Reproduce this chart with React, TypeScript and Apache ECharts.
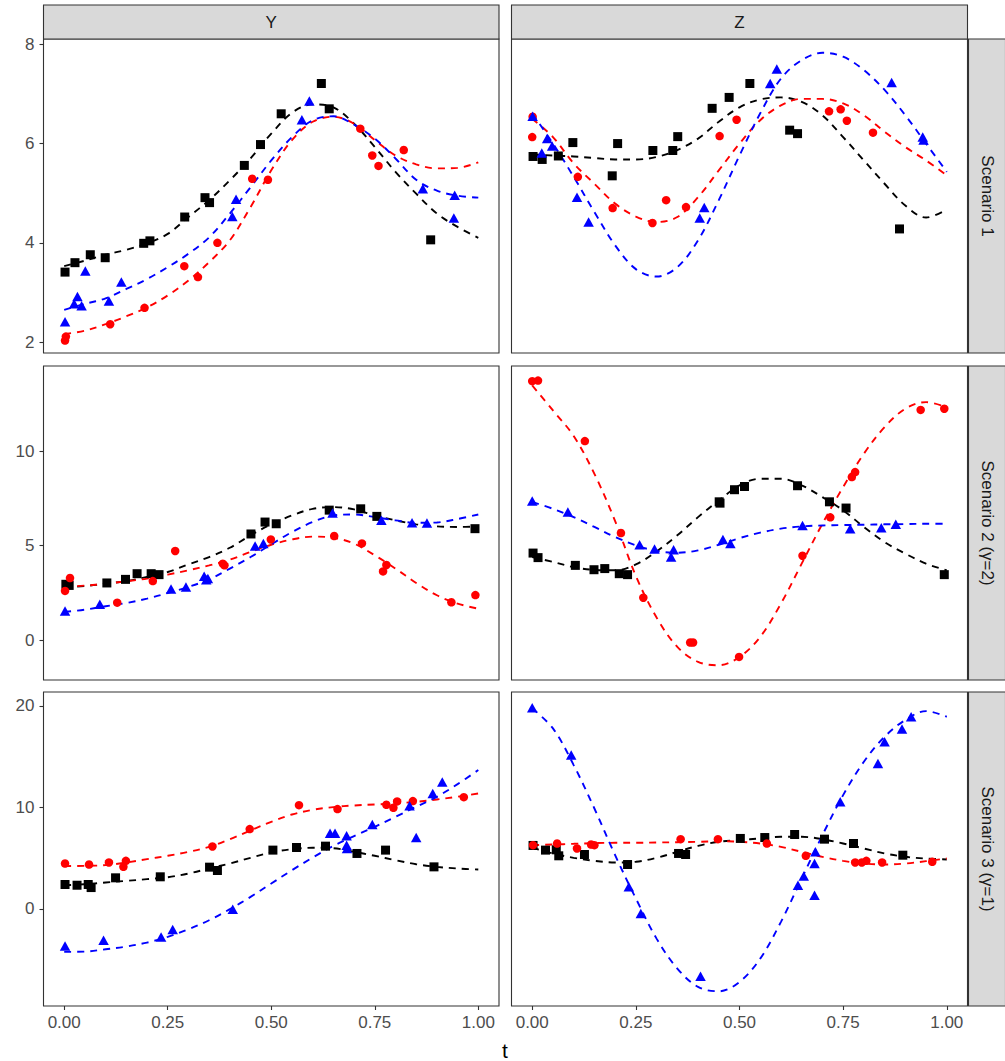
import React, { useEffect, useRef } from "react";
import * as echarts from "echarts";

// ---------- data ----------
const FIT_T = [0, 0.05, 0.1, 0.15, 0.2, 0.25, 0.3, 0.35, 0.4, 0.45, 0.5, 0.55, 0.6, 0.65, 0.7, 0.75, 0.8, 0.85, 0.9, 0.95, 1];
const X_TICKS = [0, 0.25, 0.5, 0.75, 1];
const COL_LABELS = ["Y", "Z"];
const ROW_LABELS = ["Scenario 1", "Scenario 2 (\u03b3=2)", "Scenario 3 (\u03b3=1)"];
const ROW_TICKS = [[2, 4, 6, 8], [0, 5, 10], [0, 10, 20]];
const ROW_RANGE = [[1.78, 8.107], [-2.1, 14.5], [-9.57, 21.37]];

// Scenario 1, Y
const s1Y_black = [[0.002, 3.41], [0.026, 3.6], [0.063, 3.76], [0.099, 3.7], [0.192, 3.99], [0.207, 4.04], [0.291, 4.52], [0.34, 4.91], [0.351, 4.81], [0.435, 5.56], [0.474, 5.98], [0.524, 6.6], [0.621, 7.21], [0.64, 6.7], [0.885, 4.06]];
const s1Y_red = [[0.002, 2.03], [0.004, 2.11], [0.111, 2.36], [0.194, 2.69], [0.29, 3.53], [0.323, 3.31], [0.37, 4.0], [0.454, 5.29], [0.492, 5.27], [0.715, 6.3], [0.744, 5.76], [0.759, 5.55], [0.82, 5.87]];
const s1Y_blue = [[0.002, 2.41], [0.024, 2.77], [0.032, 2.92], [0.042, 2.73], [0.051, 3.43], [0.108, 2.83], [0.138, 3.21], [0.406, 4.53], [0.415, 4.88], [0.574, 6.48], [0.592, 6.86], [0.866, 5.09], [0.943, 4.96], [0.941, 4.5]];
const s1Y_blackFit = [3.53, 3.64, 3.76, 3.86, 3.99, 4.18, 4.52, 4.86, 5.26, 5.7, 6.2, 6.62, 6.79, 6.73, 6.4, 5.93, 5.43, 4.99, 4.59, 4.32, 4.1];
const s1Y_redFit = [2.16, 2.23, 2.36, 2.52, 2.7, 2.94, 3.24, 3.61, 4.05, 4.72, 5.46, 6.07, 6.44, 6.54, 6.4, 6.07, 5.76, 5.58, 5.5, 5.51, 5.62];
const s1Y_blueFit = [2.65, 2.77, 2.88, 3.07, 3.27, 3.51, 3.78, 4.11, 4.59, 5.12, 5.66, 6.13, 6.47, 6.55, 6.38, 6.1, 5.7, 5.27, 5.05, 4.95, 4.91];

// Scenario 1, Z
const s1Z_black = [[0.002, 5.74], [0.024, 5.68], [0.063, 5.75], [0.098, 6.02], [0.193, 5.35], [0.206, 6.0], [0.291, 5.86], [0.339, 5.86], [0.351, 6.14], [0.434, 6.71], [0.475, 6.93], [0.525, 7.21], [0.621, 6.27], [0.64, 6.2], [0.886, 4.28]];
const s1Z_red = [[0.001, 6.54], [0.0, 6.13], [0.11, 5.33], [0.194, 4.7], [0.29, 4.4], [0.323, 4.86], [0.371, 4.72], [0.452, 6.15], [0.493, 6.48], [0.716, 6.65], [0.744, 6.69], [0.759, 6.46], [0.822, 6.22]];
const s1Z_blue = [[0.001, 6.55], [0.023, 5.81], [0.036, 6.1], [0.048, 5.95], [0.108, 4.92], [0.136, 4.42], [0.404, 4.5], [0.415, 4.71], [0.574, 7.21], [0.59, 7.5], [0.867, 7.23], [0.942, 6.13], [0.944, 6.07]];
const s1Z_blackFit = [5.78, 5.76, 5.74, 5.71, 5.68, 5.68, 5.73, 5.87, 6.1, 6.44, 6.73, 6.89, 6.93, 6.84, 6.57, 6.13, 5.66, 5.19, 4.75, 4.51, 4.67];
const s1Z_redFit = [6.5, 6.13, 5.6, 5.19, 4.79, 4.53, 4.42, 4.52, 4.92, 5.46, 6.0, 6.47, 6.77, 6.9, 6.9, 6.81, 6.57, 6.24, 5.93, 5.66, 5.36];
const s1Z_blueFit = [6.61, 6.0, 5.33, 4.62, 3.95, 3.47, 3.32, 3.51, 4.05, 4.86, 5.76, 6.61, 7.31, 7.68, 7.83, 7.75, 7.48, 7.08, 6.57, 6.0, 5.43];

// Scenario 2, Y
const s2Y_black = [[0.004, 2.96], [0.012, 2.9], [0.103, 3.03], [0.148, 3.22], [0.176, 3.52], [0.21, 3.52], [0.229, 3.47], [0.451, 5.62], [0.485, 6.25], [0.512, 6.16], [0.64, 6.88], [0.716, 6.95], [0.755, 6.55], [0.992, 5.9]];
const s2Y_red = [[0.002, 2.61], [0.014, 3.29], [0.128, 1.99], [0.214, 3.13], [0.268, 4.72], [0.383, 4.05], [0.387, 3.96], [0.499, 5.33], [0.652, 5.51], [0.719, 5.12], [0.77, 3.64], [0.778, 3.98], [0.935, 2.01], [0.993, 2.39]];
const s2Y_blue = [[0.002, 1.55], [0.086, 1.9], [0.258, 2.71], [0.294, 2.82], [0.338, 3.38], [0.343, 3.2], [0.347, 3.26], [0.461, 4.98], [0.481, 5.11], [0.648, 6.73], [0.766, 6.34], [0.84, 6.21], [0.876, 6.2]];
const s2Y_blackFit = [2.78, 2.87, 2.99, 3.13, 3.35, 3.61, 4.01, 4.4, 4.89, 5.55, 6.13, 6.6, 6.95, 7.04, 6.92, 6.6, 6.34, 6.13, 6.02, 5.99, 6.02];
const s2Y_redFit = [2.82, 2.89, 2.99, 3.12, 3.26, 3.47, 3.7, 3.96, 4.26, 4.67, 5.05, 5.33, 5.48, 5.42, 5.11, 4.49, 3.79, 3.03, 2.38, 1.94, 1.67];
const s2Y_blueFit = [1.5, 1.62, 1.8, 1.97, 2.2, 2.5, 2.82, 3.22, 3.79, 4.4, 5.07, 5.72, 6.25, 6.6, 6.65, 6.51, 6.34, 6.21, 6.23, 6.41, 6.65];

// Scenario 2, Z
const s2Z_black = [[0.002, 4.61], [0.014, 4.37], [0.104, 3.96], [0.149, 3.73], [0.175, 3.79], [0.21, 3.52], [0.23, 3.47], [0.451, 7.32], [0.453, 7.25], [0.488, 7.96], [0.512, 8.13], [0.64, 8.17], [0.717, 7.32], [0.757, 6.99], [0.994, 3.47]];
const s2Z_red = [[0.0, 13.7], [0.014, 13.73], [0.127, 10.53], [0.214, 5.67], [0.268, 2.25], [0.381, -0.12], [0.388, -0.12], [0.499, -0.88], [0.652, 4.47], [0.719, 6.5], [0.771, 8.63], [0.779, 8.89], [0.937, 12.18], [0.994, 12.24]];
const s2Z_blue = [[0.0, 7.36], [0.086, 6.78], [0.259, 5.05], [0.295, 4.82], [0.335, 4.4], [0.341, 4.79], [0.46, 5.33], [0.478, 5.11], [0.652, 6.07], [0.767, 5.9], [0.842, 5.95], [0.877, 6.13]];
const s2Z_blackFit = [4.4, 4.14, 3.87, 3.72, 3.7, 4.01, 4.7, 5.55, 6.51, 7.39, 8.19, 8.54, 8.54, 8.19, 7.57, 6.87, 5.99, 5.19, 4.58, 4.05, 3.7];
const s2Z_redFit = [13.47, 12.15, 10.8, 8.8, 6.3, 3.4, 1.2, -0.35, -1.14, -1.32, -0.88, 0.18, 1.94, 4.05, 6.16, 8.1, 9.86, 11.27, 12.24, 12.59, 12.32];
const s2Z_blueFit = [7.31, 6.95, 6.51, 5.99, 5.46, 5.02, 4.72, 4.63, 4.75, 5.05, 5.4, 5.69, 5.9, 6.02, 6.07, 6.09, 6.11, 6.13, 6.14, 6.16, 6.16];

// Scenario 3, Y
const s3Y_black = [[0.002, 2.4], [0.031, 2.33], [0.058, 2.4], [0.065, 2.1], [0.124, 3.06], [0.232, 3.16], [0.351, 4.11], [0.37, 3.78], [0.504, 5.79], [0.561, 6.05], [0.631, 6.18], [0.707, 5.46], [0.776, 5.79], [0.893, 4.14]];
const s3Y_red = [[0.002, 4.47], [0.06, 4.37], [0.108, 4.57], [0.143, 4.14], [0.149, 4.73], [0.358, 6.15], [0.448, 7.86], [0.567, 10.22], [0.66, 9.83], [0.778, 10.26], [0.795, 9.96], [0.804, 10.59], [0.842, 10.62], [0.965, 11.01]];
const s3Y_blue = [[0.002, -3.65], [0.095, -3.09], [0.234, -2.76], [0.262, -2.04], [0.407, -0.03], [0.642, 7.46], [0.654, 7.46], [0.682, 7.2], [0.682, 6.28], [0.683, 5.95], [0.744, 8.32], [0.834, 10.16], [0.85, 7.03], [0.89, 11.37], [0.913, 12.49]];
const s3Y_blackFit = [2.33, 2.43, 2.6, 2.76, 2.93, 3.12, 3.48, 3.98, 4.47, 5.03, 5.56, 5.88, 6.02, 5.98, 5.62, 5.23, 4.8, 4.4, 4.14, 3.98, 3.88];
const s3Y_redFit = [4.21, 4.24, 4.31, 4.57, 4.9, 5.23, 5.62, 6.11, 6.87, 7.73, 8.58, 9.3, 9.76, 10.03, 10.19, 10.29, 10.39, 10.55, 10.78, 11.05, 11.37];
const s3Y_blueFit = [-4.24, -4.21, -3.98, -3.71, -3.32, -2.76, -2.01, -1.12, -0.03, 1.18, 2.5, 3.81, 5.06, 6.21, 7.17, 8.09, 9.07, 10.06, 11.05, 12.29, 13.68];

// Scenario 3, Z
const s3Z_black = [[0.002, 6.25], [0.032, 5.79], [0.058, 5.82], [0.064, 5.23], [0.126, 5.36], [0.23, 4.37], [0.353, 5.46], [0.37, 5.36], [0.502, 6.94], [0.561, 7.03], [0.633, 7.33], [0.705, 6.87], [0.775, 6.44], [0.894, 5.29]];
const s3Z_red = [[0.002, 6.28], [0.06, 6.44], [0.108, 5.95], [0.142, 6.34], [0.15, 6.28], [0.358, 6.87], [0.448, 6.87], [0.566, 6.44], [0.66, 5.23], [0.779, 4.57], [0.795, 4.57], [0.806, 4.73], [0.844, 4.57], [0.965, 4.64]];
const s3Z_blue = [[0.0, 19.82], [0.094, 15.16], [0.233, 2.17], [0.262, -0.46], [0.406, -6.64], [0.641, 2.33], [0.655, 3.25], [0.681, 1.35], [0.681, 4.47], [0.683, 5.62], [0.743, 10.55], [0.834, 14.33], [0.85, 16.47], [0.892, 17.72], [0.914, 18.94]];
const s3Z_blackFit = [6.02, 5.46, 5.03, 4.73, 4.57, 4.64, 5.03, 5.62, 6.21, 6.61, 6.77, 6.94, 7.1, 7.1, 6.87, 6.44, 5.95, 5.46, 5.13, 4.96, 4.87];
const s3Z_redFit = [6.28, 6.34, 6.41, 6.48, 6.51, 6.51, 6.54, 6.57, 6.61, 6.67, 6.61, 6.44, 6.11, 5.62, 5.13, 4.73, 4.47, 4.37, 4.47, 4.7, 4.96];
const s3Z_blueFit = [19.76, 17.78, 14.17, 9.89, 5.29, 1.02, -2.93, -5.88, -7.69, -8.12, -7.2, -4.9, -1.28, 2.99, 7.26, 11.21, 14.5, 16.96, 18.61, 19.49, 18.93];

const PANELS = [
  { row: 0, col: 0, pts: [s1Y_black, s1Y_red, s1Y_blue], fits: [s1Y_blackFit, s1Y_redFit, s1Y_blueFit] },
  { row: 0, col: 1, pts: [s1Z_black, s1Z_red, s1Z_blue], fits: [s1Z_blackFit, s1Z_redFit, s1Z_blueFit] },
  { row: 1, col: 0, pts: [s2Y_black, s2Y_red, s2Y_blue], fits: [s2Y_blackFit, s2Y_redFit, s2Y_blueFit] },
  { row: 1, col: 1, pts: [s2Z_black, s2Z_red, s2Z_blue], fits: [s2Z_blackFit, s2Z_redFit, s2Z_blueFit] },
  { row: 2, col: 0, pts: [s3Y_black, s3Y_red, s3Y_blue], fits: [s3Y_blackFit, s3Y_redFit, s3Y_blueFit] },
  { row: 2, col: 1, pts: [s3Z_black, s3Z_red, s3Z_blue], fits: [s3Z_blackFit, s3Z_redFit, s3Z_blueFit] },
];

// ---------- layout & style ----------
const FONT = "'Liberation Sans', Arial, Helvetica, sans-serif";
const COLS = [{ left: 43.5, width: 455.5 }, { left: 511.5, width: 456 }];
const ROWS = [{ top: 39, height: 314 }, { top: 366, height: 314 }, { top: 692, height: 314 }];
const STRIP_TOP = 5;
const STRIP_H = 34;
const STRIP_RIGHT_X = 968.5;
const STRIP_RIGHT_W = 37;
const COLORS = ["#000000", "#FF0000", "#0000FF"];
const SYMBOLS = ["rect", "circle", "triangle"];
const SYMBOL_SIZES: any[] = [9, 8.5, [10.5, 9.5]];

export default function App() {
  const ref = useRef<HTMLDivElement>(null);
  useEffect(() => {
    if (!ref.current) return;
    const chart = echarts.init(ref.current, undefined, { renderer: "svg" });
    const grids: any[] = [];
    const xAxes: any[] = [];
    const yAxes: any[] = [];
    const series: any[] = [];
    PANELS.forEach((p, i) => {
      const c = COLS[p.col];
      const r = ROWS[p.row];
      grids.push({
        left: c.left, top: r.top, width: c.width, height: r.height,
        show: true, borderColor: "#333333", borderWidth: 1.1, backgroundColor: "#FFFFFF",
      });
      const bottom = p.row === 2;
      xAxes.push({
        type: "value", gridIndex: i, min: -0.05, max: 1.05, position: "bottom",
        axisLine: { show: false, onZero: false }, splitLine: { show: false },
        axisTick: { show: bottom, inside: false, length: 4, lineStyle: { color: "#333333", width: 1.1 }, customValues: X_TICKS },
        axisLabel: {
          show: bottom, customValues: X_TICKS, formatter: (v: number) => v.toFixed(2),
          color: "#4D4D4D", fontSize: 17, fontFamily: FONT, margin: 8,
        },
      });
      const left = p.col === 0;
      yAxes.push({
        type: "value", gridIndex: i, min: ROW_RANGE[p.row][0], max: ROW_RANGE[p.row][1], position: "left",
        axisLine: { show: false, onZero: false }, splitLine: { show: false },
        axisTick: { show: left, inside: false, length: 4, lineStyle: { color: "#333333", width: 1.1 }, customValues: ROW_TICKS[p.row] },
        axisLabel: {
          show: left, customValues: ROW_TICKS[p.row],
          color: "#4D4D4D", fontSize: 17, fontFamily: FONT, margin: 9,
        },
      });
      p.fits.forEach((f, k) => {
        series.push({
          type: "line", xAxisIndex: i, yAxisIndex: i,
          data: FIT_T.map((t, j) => [t, f[j]]),
          smooth: 0.35, showSymbol: false, symbol: "none", z: 2,
          lineStyle: { color: COLORS[k], width: 1.9, type: [7, 6] },
          silent: true,
        });
      });
      p.pts.forEach((pts, k) => {
        series.push({
          type: "scatter", xAxisIndex: i, yAxisIndex: i,
          data: pts, symbol: SYMBOLS[k], symbolSize: SYMBOL_SIZES[k], z: 3,
          itemStyle: { color: COLORS[k], opacity: 1 },
          silent: true,
        });
      });
    });

    const graphic: any[] = [];
    COLS.forEach((c, ci) => {
      graphic.push({
        type: "rect", shape: { x: c.left, y: STRIP_TOP, width: c.width, height: STRIP_H },
        style: { fill: "#D9D9D9", stroke: "#333333", lineWidth: 1.1 }, z: 10,
      });
      graphic.push({
        type: "text", x: c.left + c.width / 2, y: STRIP_TOP + STRIP_H / 2,
        style: { text: COL_LABELS[ci], fill: "#1A1A1A", fontSize: 17, fontFamily: FONT, align: "center", verticalAlign: "middle" },
        z: 11,
      });
    });
    ROWS.forEach((r, ri) => {
      graphic.push({
        type: "rect", shape: { x: STRIP_RIGHT_X, y: r.top, width: STRIP_RIGHT_W, height: r.height },
        style: { fill: "#D9D9D9", stroke: "#333333", lineWidth: 1.1 }, z: 10,
      });
      graphic.push({
        type: "text", x: STRIP_RIGHT_X + 18.5, y: r.top + r.height / 2, rotation: -Math.PI / 2,
        style: { text: ROW_LABELS[ri], fill: "#1A1A1A", fontSize: 17, fontFamily: FONT, align: "center", verticalAlign: "middle" },
        z: 11,
      });
    });
    graphic.push({
      type: "text", x: 505, y: 1050,
      style: { text: "t", fill: "#000000", fontSize: 21, fontFamily: FONT, align: "center", verticalAlign: "middle" },
      z: 11,
    });

    chart.setOption({
      animation: false,
      backgroundColor: "#FFFFFF",
      grid: grids, xAxis: xAxes, yAxis: yAxes, series, graphic,
    });
    return () => chart.dispose();
  }, []);
  return <div ref={ref} style={{ position: "absolute", left: 0, top: 0, width: 1005, height: 1061 }} />;
}
